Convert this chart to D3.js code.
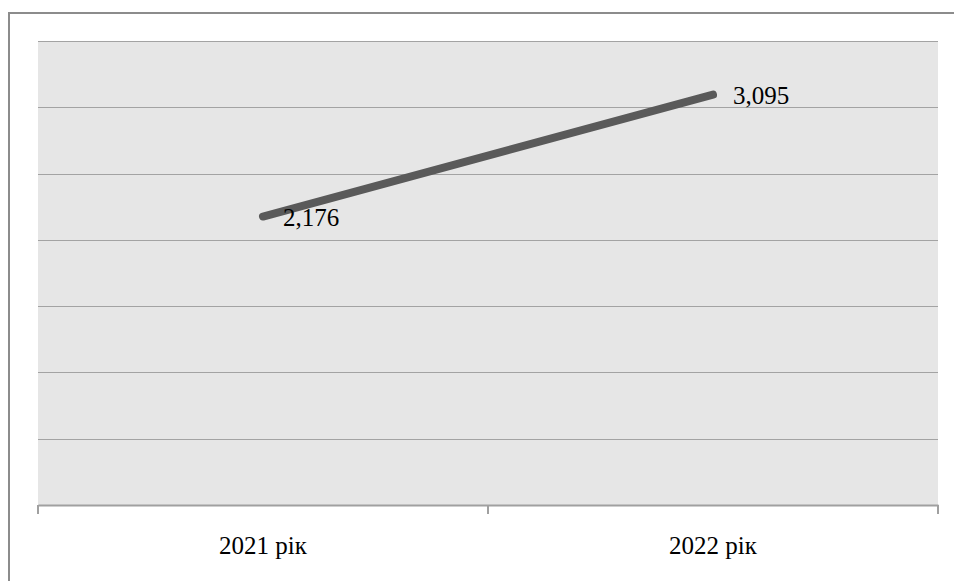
<!DOCTYPE html>
<html><head><meta charset="utf-8">
<script src="https://cdn.jsdelivr.net/npm/d3@7"></script>
<style>html,body{margin:0;padding:0;background:#fff;}svg{display:block;}</style>
</head><body>
<svg id="chart" width="954" height="581"></svg>
<script>
const categories = ["2021 рік", "2022 рік"];
const values = [2.176, 3.095];
const valueLabels = ["2,176", "3,095"];
const yTicks = [0, 0.5, 1, 1.5, 2, 2.5, 3, 3.5];

const svg = d3.select("#chart");
const W = 954, H = 581;
const m = {left: 38, right: 16, top: 41, bottom: 76};

// outer frame
svg.append("rect").attr("x", 9).attr("y", 13).attr("width", W + 10).attr("height", H + 10)
  .attr("fill", "#fff").attr("stroke", "#8c8c8c").attr("stroke-width", 2);

const x = d3.scaleBand().domain(categories).range([m.left, W - m.right]);
const y = d3.scaleLinear().domain([0, 3.5]).range([H - m.bottom, m.top]);

svg.append("rect").attr("x", m.left).attr("y", m.top)
  .attr("width", W - m.right - m.left).attr("height", H - m.bottom - m.top)
  .attr("fill", "#e6e6e6");

svg.append("g").selectAll("line").data(yTicks.slice(1)).join("line")
  .attr("x1", m.left).attr("x2", W - m.right)
  .attr("y1", d => Math.round(y(d)) + 0.5).attr("y2", d => Math.round(y(d)) + 0.5)
  .attr("stroke", "#a3a3a3").attr("stroke-width", 1.2);

// x axis
const xAxis = d3.axisBottom(x).tickSize(0).tickPadding(0);
const gx = svg.append("g").attr("transform", `translate(0,${Math.round(y(0))})`).call(xAxis);
gx.select(".domain").attr("stroke", "#a0a0a0").attr("stroke-width", 2);
gx.selectAll(".tick text").remove();
const bounds = [m.left, m.left + x.bandwidth(), W - m.right];
svg.append("g").selectAll("line").data(bounds).join("line")
  .attr("x1", d => d).attr("x2", d => d)
  .attr("y1", Math.round(y(0))).attr("y2", Math.round(y(0)) + 9)
  .attr("stroke", "#a0a0a0").attr("stroke-width", 2);
svg.append("g").selectAll("text").data(categories).join("text")
  .attr("x", d => x(d) + x.bandwidth() / 2).attr("y", 554)
  .attr("text-anchor", "middle")
  .attr("font-family", "'Liberation Serif','Times New Roman',serif")
  .attr("font-size", 25).attr("fill", "#000").text(d => d);

// line
const pts = categories.map((c, i) => [x(c) + x.bandwidth() / 2, y(values[i])]);
svg.append("path").datum(pts).attr("d", d3.line())
  .attr("fill", "none").attr("stroke", "#5a5a5a").attr("stroke-width", 8)
  .attr("stroke-linecap", "round");

svg.append("g").selectAll("text").data(pts).join("text")
  .attr("x", d => d[0] + 20).attr("y", d => d[1] + 9)
  .attr("font-family", "'Liberation Serif','Times New Roman',serif")
  .attr("font-size", 25).attr("fill", "#000").text((d, i) => valueLabels[i]);
</script>
</body></html>
